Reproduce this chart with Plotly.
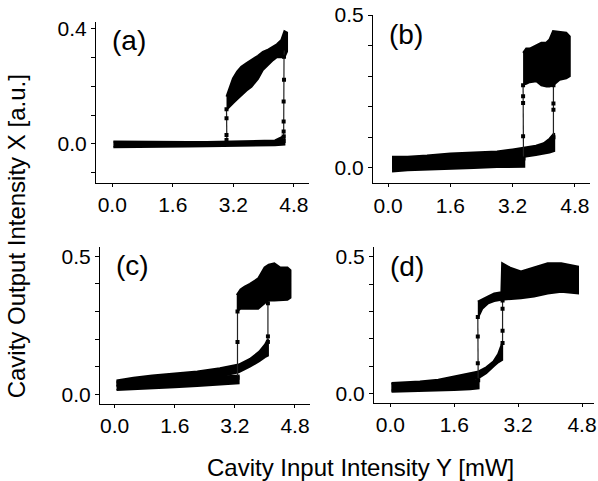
import plotly.graph_objects as go

# ---- data (x: input mW, y: output a.u.) ----
# (a)
a_low_x = [0.03, 0.5, 1.0, 1.5, 2.0, 2.5, 3.0, 3.5, 4.0, 4.3, 4.55]
a_low_top = [0.009, 0.008, 0.008, 0.007, 0.007, 0.007, 0.008, 0.008, 0.010, 0.012, 0.028]
a_low_bot = [-0.011, -0.011, -0.010, -0.010, -0.009, -0.008, -0.007, -0.006, -0.005, -0.004, -0.002]
a_up_x = [3.02, 3.1, 3.19, 3.3, 3.41, 3.55, 3.68, 3.85, 3.98, 4.1, 4.25, 4.35, 4.47, 4.55, 4.62]
a_up_top = [0.164, 0.195, 0.227, 0.25, 0.267, 0.28, 0.29, 0.305, 0.319, 0.325, 0.337, 0.345, 0.36, 0.39, 0.385]
a_up_bot = [0.118, 0.128, 0.141, 0.155, 0.170, 0.185, 0.198, 0.225, 0.256, 0.27, 0.29, 0.3, 0.30, 0.30, 0.32]
a_dn_x = [3.02, 3.02, 3.02, 3.02, 3.03]
a_dn_y = [0.12, 0.089, 0.031, 0.014, 0.0]
a_jp_x = [4.53, 4.53, 4.53, 4.53, 4.53, 4.54, 4.54, 4.55]
a_jp_y = [0.01, 0.026, 0.043, 0.078, 0.147, 0.222, 0.302, 0.33]

# (b)
b_rev_x = [0.1, 0.5, 1.0, 1.6, 2.2, 2.8, 3.2, 3.5]
b_rev_top = [0.03, 0.028, 0.03, 0.032, 0.033, 0.034, 0.035, 0.036]
b_rev_bot = [-0.012, -0.008, -0.005, -0.003, -0.001, 0.002, 0.003, 0.003]
b_fwd_x = [0.1, 0.5, 1.0, 1.6, 2.2, 2.8, 3.2, 3.5, 3.8, 4.0, 4.15, 4.27]
b_fwd_top = [0.036, 0.036, 0.04, 0.047, 0.05, 0.053, 0.06, 0.066, 0.072, 0.08, 0.095, 0.113]
b_fwd_bot = [0.0, 0.005, 0.01, 0.014, 0.018, 0.022, 0.028, 0.036, 0.042, 0.046, 0.05, 0.055]
b_up_x = [3.47, 3.55, 3.64, 3.81, 3.94, 4.07, 4.15, 4.24, 4.41, 4.58, 4.67]
b_up_top = [0.376, 0.39, 0.39, 0.40, 0.409, 0.41, 0.42, 0.447, 0.445, 0.442, 0.43]
b_up_bot = [0.272, 0.275, 0.28, 0.283, 0.27, 0.266, 0.266, 0.27, 0.288, 0.293, 0.30]
b_dn_x = [3.47, 3.47, 3.47, 3.47, 3.48]
b_dn_y = [0.27, 0.234, 0.212, 0.103, 0.03]
b_jp_x = [4.25, 4.25, 4.25, 4.25]
b_jp_y = [0.1, 0.19, 0.21, 0.27]

# (c)
c_rev_x = [0.05, 0.5, 1.0, 1.6, 2.2, 2.8, 3.3]
c_rev_top = [0.046, 0.048, 0.052, 0.056, 0.06, 0.064, 0.068]
c_rev_bot = [0.016, 0.018, 0.022, 0.026, 0.03, 0.035, 0.04]
c_fwd_x = [0.05, 0.5, 1.0, 1.6, 2.2, 2.8, 3.3, 3.6, 3.85, 4.0, 4.08]
c_fwd_top = [0.05, 0.06, 0.068, 0.075, 0.083, 0.095, 0.108, 0.128, 0.155, 0.18, 0.2]
c_fwd_bot = [0.03, 0.035, 0.04, 0.046, 0.055, 0.065, 0.08, 0.1, 0.12, 0.135, 0.14]
c_up_x = [3.25, 3.35, 3.46, 3.6, 3.82, 3.99, 4.1, 4.25, 4.4, 4.6, 4.68]
c_up_top = [0.36, 0.38, 0.39, 0.40, 0.42, 0.46, 0.47, 0.475, 0.46, 0.46, 0.45]
c_up_bot = [0.30, 0.31, 0.31, 0.31, 0.31, 0.33, 0.34, 0.34, 0.34, 0.343, 0.35]
c_dn_x = [3.27, 3.27, 3.27]
c_dn_y = [0.30, 0.19, 0.06]
c_jp_x = [4.08, 4.08, 4.08]
c_jp_y = [0.19, 0.21, 0.33]

# (d)
d_rev_x = [0.03, 0.4, 0.8, 1.2, 1.6, 2.0, 2.21]
d_rev_top = [0.038, 0.036, 0.036, 0.038, 0.042, 0.047, 0.05]
d_rev_bot = [0.008, 0.008, 0.01, 0.012, 0.014, 0.017, 0.02]
d_fwd_x = [0.03, 0.4, 0.74, 1.2, 1.58, 2.0, 2.21, 2.4, 2.58, 2.7, 2.8]
d_fwd_top = [0.04, 0.042, 0.045, 0.052, 0.064, 0.075, 0.082, 0.097, 0.118, 0.145, 0.185]
d_fwd_bot = [0.012, 0.015, 0.018, 0.025, 0.035, 0.05, 0.058, 0.075, 0.1, 0.115, 0.124]
d_up_x = [2.19, 2.3, 2.45, 2.6, 2.78, 2.8, 3.0, 3.27, 3.6, 3.94, 4.28, 4.5, 4.7]
d_up_top = [0.336, 0.345, 0.355, 0.366, 0.37, 0.476, 0.46, 0.446, 0.46, 0.476, 0.476, 0.47, 0.464]
d_up_bot = [0.276, 0.31, 0.33, 0.338, 0.343, 0.343, 0.345, 0.348, 0.355, 0.366, 0.372, 0.37, 0.366]
d_dn_x = [2.19, 2.19, 2.19, 2.2]
d_dn_y = [0.28, 0.209, 0.112, 0.05]
d_jp_x = [2.81, 2.81, 2.81, 2.81]
d_jp_y = [0.185, 0.23, 0.31, 0.34]

x_ticks = [0.0, 1.6, 3.2, 4.8]
x_ticktext = ["0.0", "1.6", "3.2", "4.8"]
panel_labels = ["(a)", "(b)", "(c)", "(d)"]

panels = [
    dict(bands=[(a_low_x, a_low_top, a_low_bot), (a_up_x, a_up_top, a_up_bot)],
         jumps=[(a_dn_x, a_dn_y), (a_jp_x, a_jp_y)],
         xr=[-0.43, 5.2], yr=[-0.135, 0.423], yt=[0.0, 0.4], ytt=["0.0", "0.4"],
         dx=[0.1605, 0.5167], dy=[0.6195, 0.9549]),
    dict(bands=[(b_rev_x, b_rev_top, b_rev_bot), (b_fwd_x, b_fwd_top, b_fwd_bot), (b_up_x, b_up_top, b_up_bot)],
         jumps=[(b_dn_x, b_dn_y), (b_jp_x, b_jp_y)],
         xr=[-0.39, 5.19], yr=[-0.051, 0.5], yt=[0.0, 0.5], ytt=["0.0", "0.5"],
         dx=[0.6237, 0.9866], dy=[0.6189, 0.9688]),
    dict(bands=[(c_rev_x, c_rev_top, c_rev_bot), (c_fwd_x, c_fwd_top, c_fwd_bot), (c_up_x, c_up_top, c_up_bot)],
         jumps=[(c_dn_x, c_dn_y), (c_jp_x, c_jp_y)],
         xr=[-0.39, 5.2], yr=[-0.035, 0.535], yt=[0.0, 0.5], ytt=["0.0", "0.5"],
         dx=[0.1672, 0.5184], dy=[0.1601, 0.4871]),
    dict(bands=[(d_rev_x, d_rev_top, d_rev_bot), (d_fwd_x, d_fwd_top, d_fwd_bot), (d_up_x, d_up_top, d_up_bot)],
         jumps=[(d_dn_x, d_dn_y), (d_jp_x, d_jp_y)],
         xr=[-0.41, 5.1], yr=[-0.032, 0.534], yt=[0.0, 0.5], ytt=["0.0", "0.5"],
         dx=[0.6254, 0.9933], dy=[0.1628, 0.4859]),
]

FONT = "Liberation Sans, Arial, Helvetica, sans-serif"
fig = go.Figure()
layout = {}
annotations = []

for i, p in enumerate(panels):
    n = "" if i == 0 else str(i + 1)
    xa, ya = "x" + n, "y" + n
    for bx, btop, bbot in p["bands"]:
        fig.add_trace(go.Scatter(
            x=bx + bx[::-1], y=btop + bbot[::-1],
            xaxis=xa, yaxis=ya, mode="lines", fill="toself",
            fillcolor="black", line=dict(color="black", width=2),
            showlegend=False, hoverinfo="skip"))
    for jx, jy in p["jumps"]:
        fig.add_trace(go.Scatter(
            x=jx, y=jy, xaxis=xa, yaxis=ya, mode="lines+markers",
            line=dict(color="#222", width=1.2),
            marker=dict(symbol="square", size=4, color="black"),
            showlegend=False, hoverinfo="skip"))
    layout["xaxis" + n] = dict(
        domain=p["dx"], anchor=ya, range=p["xr"], tickvals=x_ticks, ticktext=x_ticktext,
        showline=True, linecolor="black", linewidth=1, ticks="outside", ticklen=3,
        tickcolor="black", showgrid=False, zeroline=False, automargin=False,
        tickfont=dict(family=FONT, size=21, color="black"))
    layout["yaxis" + n] = dict(
        domain=p["dy"], anchor=xa, range=p["yr"], tickvals=p["yt"], ticktext=p["ytt"],
        showline=True, linecolor="black", linewidth=1, ticks="outside", ticklen=4,
        tickcolor="black", showgrid=False, zeroline=False, automargin=False,
        minor=dict(dtick=0.1, ticks="outside", ticklen=4, tickcolor="black"),
        tickfont=dict(family=FONT, size=21, color="black"))
    annotations.append(dict(
        text=panel_labels[i], xref=xa + " domain", yref=ya + " domain",
        x=0.065, y=0.99, xanchor="left", yanchor="top", showarrow=False,
        font=dict(family=FONT, size=28, color="black")))

annotations.append(dict(
    text="Cavity Input Intensity Y [mW]", xref="paper", yref="paper",
    x=0.603, y=0.029, xanchor="center", yanchor="middle", showarrow=False,
    font=dict(family=FONT, size=24, color="black")))
annotations.append(dict(
    text="Cavity Output Intensity X [a.u.]", xref="paper", yref="paper",
    x=0.027, y=0.509, xanchor="center", yanchor="middle", textangle=-90, showarrow=False,
    font=dict(family=FONT, size=24, color="black")))

fig.update_layout(
    width=598, height=481,
    margin=dict(l=0, r=0, t=0, b=0),
    paper_bgcolor="white", plot_bgcolor="white",
    annotations=annotations,
    **layout)

fig.write_html("out.html", config={"displayModeBar": False},
               post_script="document.body.style.margin='0px';document.body.style.overflow='hidden';")
